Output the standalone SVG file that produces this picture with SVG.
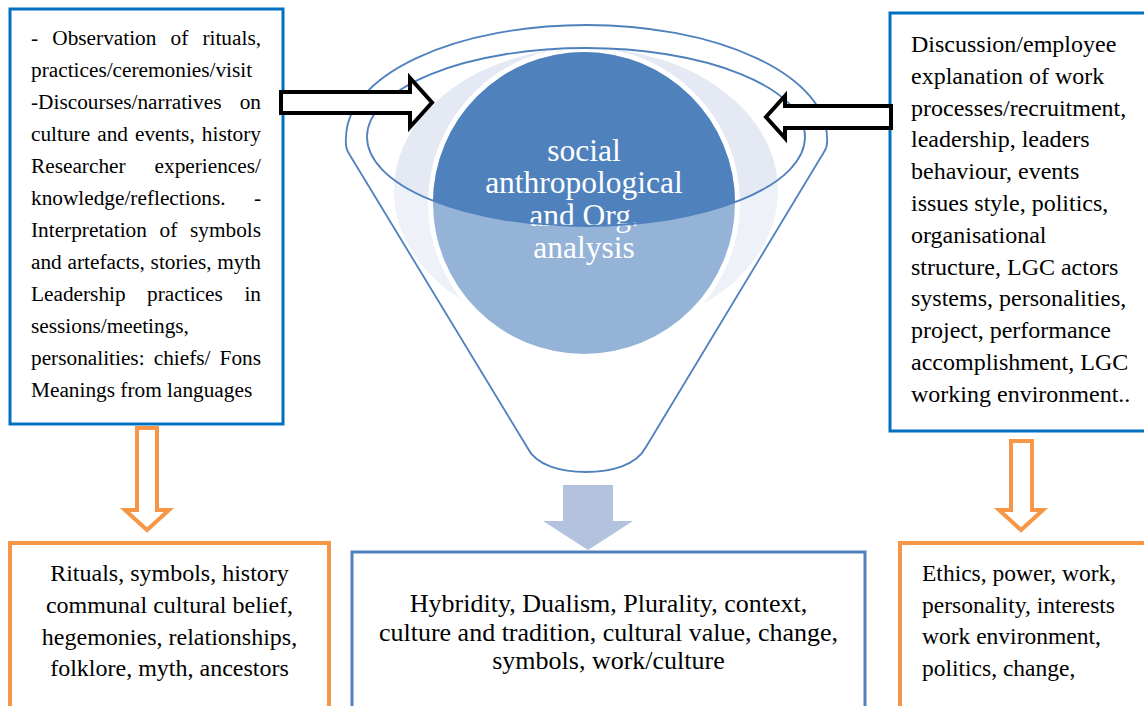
<svg xmlns="http://www.w3.org/2000/svg" width="1144" height="706" viewBox="0 0 1144 706">
<style>
.bb{fill:#fff;stroke:#0070C0;stroke-width:3}
.bo{fill:#fff;stroke:#F79646;stroke-width:4}
.bm{fill:#fff;stroke:#4F81BD;stroke-width:3}
.t{font-family:"Liberation Serif","Times New Roman",serif;fill:#000}
.l{font-size:21.3px}
.r{font-size:24px}
.c{font-size:24px;text-anchor:middle}
.m{font-size:26px;text-anchor:middle}
.rb{font-size:23.5px}
.w{font-family:"Liberation Serif","Times New Roman",serif;fill:#fff;font-size:31.5px;text-anchor:middle}
.e{text-anchor:end}
.ab{fill:#fff;stroke:#000;stroke-width:4}
.ao{fill:#fff;stroke:#F79646;stroke-width:4}
.am{fill:#B3C3DF}
.fl{fill:none;stroke:#4F81BD;stroke-width:1.8}
</style>
<defs>
<clipPath id="inner"><ellipse cx="586" cy="137" rx="219" ry="89"/></clipPath>
</defs>
<rect width="1144" height="706" fill="#fff"/>

<g id="node-left-top">
<rect class="bb" x="10" y="9" width="273" height="415"/>
<text class="t l"><tspan x="31" y="45">-</tspan><tspan x="52.3" y="45">Observation</tspan><tspan x="170.6" y="45">of</tspan><tspan class="e" x="261" y="45">rituals,</tspan></text>
<text class="t l" x="31" y="77">practices/ceremonies/visit</text>
<text class="t l"><tspan x="31" y="109">-Discourses/narratives</tspan><tspan class="e" x="261" y="109">on</tspan></text>
<text class="t l"><tspan x="31" y="141">culture</tspan><tspan x="97.2" y="141">and</tspan><tspan x="135" y="141">events,</tspan><tspan class="e" x="261" y="141">history</tspan></text>
<text class="t l"><tspan x="31" y="173">Researcher</tspan><tspan class="e" x="261" y="173">experiences/</tspan></text>
<text class="t l"><tspan x="31" y="205">knowledge/reflections.</tspan><tspan class="e" x="261" y="205">-</tspan></text>
<text class="t l"><tspan x="31" y="237">Interpretation</tspan><tspan x="159.6" y="237">of</tspan><tspan class="e" x="261" y="237">symbols</tspan></text>
<text class="t l"><tspan x="31" y="269">and</tspan><tspan x="67.5" y="269">artefacts,</tspan><tspan x="150.6" y="269">stories,</tspan><tspan class="e" x="261" y="269">myth</tspan></text>
<text class="t l"><tspan x="31" y="301">Leadership</tspan><tspan x="147.1" y="301">practices</tspan><tspan class="e" x="261" y="301">in</tspan></text>
<text class="t l" x="31" y="333">sessions/meetings,</text>
<text class="t l"><tspan x="31" y="365">personalities:</tspan><tspan x="153.7" y="365">chiefs/</tspan><tspan class="e" x="261" y="365">Fons</tspan></text>
<text class="t l" x="31" y="397">Meanings from languages</text>
</g>

<g id="node-right-top">
<rect class="bb" x="890" y="13" width="262" height="418"/>
<text class="t r" x="911" y="52">Discussion/employee</text>
<text class="t r" x="911" y="83.8">explanation of work</text>
<text class="t r" x="911" y="115.6">processes/recruitment,</text>
<text class="t r" x="911" y="147.4">leadership, leaders</text>
<text class="t r" x="911" y="179.2">behaviour, events</text>
<text class="t r" x="911" y="211">issues style, politics,</text>
<text class="t r" x="911" y="242.8">organisational</text>
<text class="t r" x="911" y="274.6">structure, LGC actors</text>
<text class="t r" x="911" y="306.4">systems, personalities,</text>
<text class="t r" x="911" y="338.2">project, performance</text>
<text class="t r" x="911" y="370">accomplishment, LGC</text>
<text class="t r" x="911" y="401.8">working environment..</text>
</g>

<g id="node-funnel">
<path d="M527,447 L348,152 Q345,146 346,138 A240.5,113 0 0 1 827,138 Q828,146 824,152 L646,447 C636,466 610,472 586,472 C562,472 536,466 527,447 Z" fill="#fff" stroke="#4F81BD" stroke-width="1.8"/>
<ellipse cx="586" cy="191" rx="192" ry="143" fill="#EEF2F8"/>
<ellipse cx="586" cy="191" rx="192" ry="143" fill="#E4E9F3" clip-path="url(#inner)"/>
<circle cx="584" cy="203" r="156" fill="#fff"/>
<circle cx="584" cy="203" r="151" fill="#95B3D7"/>
<circle cx="584" cy="203" r="151" fill="#4F81BD" clip-path="url(#inner)"/>
<text class="w" x="584" y="161">social</text>
<text class="w" x="584" y="193">anthropological</text>
<text class="w" x="584" y="226">and Org.</text>
<text class="w" x="584" y="258">analysis</text>
<ellipse class="fl" cx="586" cy="137" rx="219" ry="89"/>
</g>

<g id="node-bottom-left">
<rect class="bo" x="10" y="543" width="319" height="200"/>
<text class="t c" x="169.5" y="581">Rituals, symbols, history</text>
<text class="t c" x="169.5" y="613">communal cultural belief,</text>
<text class="t c" x="169.5" y="644.5">hegemonies, relationships,</text>
<text class="t c" x="169.5" y="676">folklore, myth, ancestors</text>
</g>

<g id="node-bottom-mid">
<rect class="bm" x="352" y="552" width="513" height="200"/>
<text class="t m" x="608.5" y="612">Hybridity, Dualism, Plurality, context,</text>
<text class="t m" x="608.5" y="640.5">culture and tradition, cultural value, change,</text>
<text class="t m" x="608.5" y="669">symbols, work/culture</text>
</g>

<g id="node-bottom-right">
<rect class="bo" x="900" y="543" width="260" height="200"/>
<text class="t rb" x="922" y="581">Ethics, power, work,</text>
<text class="t rb" x="922" y="612.5">personality, interests</text>
<text class="t rb" x="922" y="644">work environment,</text>
<text class="t rb" x="922" y="675.5">politics, change,</text>
</g>

<g id="connectors">
<polygon class="ab" points="281,92 410,92 410,78 432,102.5 410,127 410,113 281,113"/>
<polygon class="ab" points="891,106 785,106 785,96 766,117 785,138 785,128 891,128"/>
<polygon class="ao" points="137,428 157,428 157,510 169,510 147,530 125,510 137,510"/>
<polygon class="ao" points="1011,441 1032,441 1032,510 1043,510 1021,530 999,510 1011,510"/>
<polygon class="am" points="563,485 613,485 613,521 633,521 588,550 543,521 563,521"/>
</g>
</svg>
